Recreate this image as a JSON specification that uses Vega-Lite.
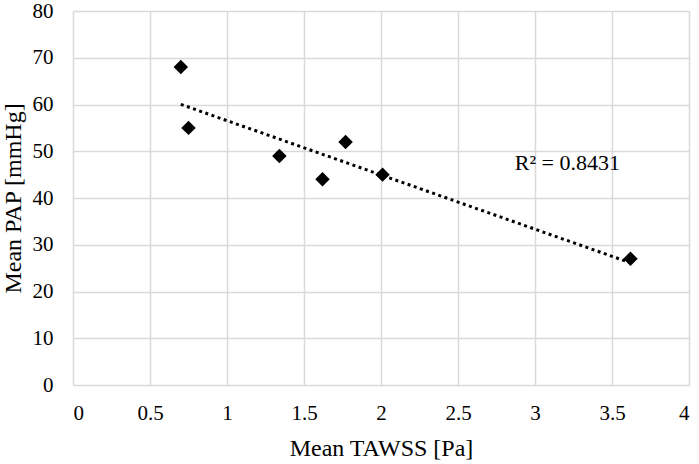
{
  "$schema": "https://vega.github.io/schema/vega-lite/v6.json",
  "width": 616,
  "height": 374,
  "autosize": "none",
  "padding": {"left": 73, "top": 11, "right": 10, "bottom": 79},
  "background": "white",
  "config": {
    "font": "Liberation Serif",
    "view": {"stroke": null},
    "axis": {
      "grid": true,
      "gridColor": "#d9d9d9",
      "gridWidth": 1.5,
      "domain": false,
      "ticks": false,
      "labelFont": "Liberation Serif",
      "labelFontSize": 21,
      "labelColor": "black",
      "titleFont": "Liberation Serif",
      "titleFontSize": 24,
      "titleFontWeight": "normal",
      "titleColor": "black"
    }
  },
  "data": {
    "values": [
      {"tawss": 0.70, "pap": 68},
      {"tawss": 0.75, "pap": 55},
      {"tawss": 1.34, "pap": 49},
      {"tawss": 1.62, "pap": 44},
      {"tawss": 1.77, "pap": 52},
      {"tawss": 2.01, "pap": 45},
      {"tawss": 3.62, "pap": 27}
    ]
  },
  "layer": [
    {
      "transform": [{"regression": "pap", "on": "tawss"}],
      "mark": {"type": "line", "color": "black", "strokeWidth": 3, "strokeDash": [3, 3.5]},
      "encoding": {
        "x": {"field": "tawss", "type": "quantitative"},
        "y": {"field": "pap", "type": "quantitative"}
      }
    },
    {
      "mark": {"type": "point", "shape": "diamond", "filled": true, "color": "black", "size": 210, "opacity": 1},
      "encoding": {
        "x": {
          "field": "tawss",
          "type": "quantitative",
          "title": "Mean TAWSS [Pa]",
          "scale": {"domain": [0, 4], "nice": false},
          "axis": {"values": [0, 0.5, 1, 1.5, 2, 2.5, 3, 3.5, 4], "format": "~g", "labelPadding": 17, "titlePadding": 13}
        },
        "y": {
          "field": "pap",
          "type": "quantitative",
          "title": "Mean PAP [mmHg]",
          "scale": {"domain": [0, 80], "nice": false},
          "axis": {"values": [0, 10, 20, 30, 40, 50, 60, 70, 80], "labelPadding": 20, "titlePadding": 7, "labelBound": false}
        }
      }
    },
    {
      "data": {"values": [{"tawss": 3.21, "pap": 47.4, "label": "R² = 0.8431"}]},
      "mark": {"type": "text", "fontSize": 22, "font": "Liberation Serif", "color": "black"},
      "encoding": {
        "x": {"field": "tawss", "type": "quantitative"},
        "y": {"field": "pap", "type": "quantitative"},
        "text": {"field": "label"}
      }
    }
  ]
}
